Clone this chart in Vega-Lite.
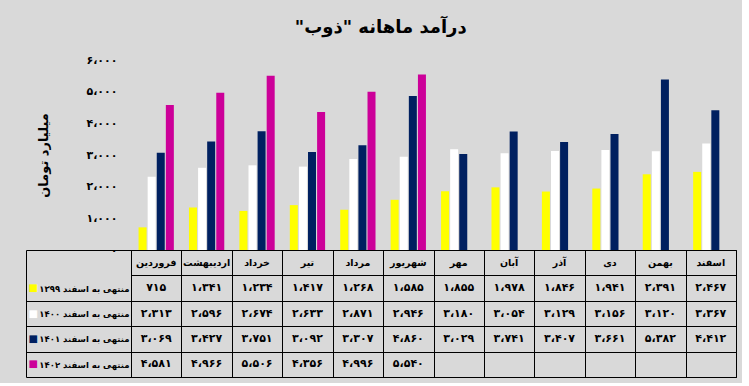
{
  "$schema": "https://vega.github.io/schema/vega-lite/v6.json",
  "background": "#d9d9d9",
  "padding": {"left": 25, "top": 19, "right": 5, "bottom": 5},
  "title": {"text": "درآمد ماهانه \"ذوب\"‏", "font": "DejaVu Sans", "fontSize": 18, "fontWeight": "bold", "color": "#000000", "anchor": "middle", "offset": 17},
  "bounds": "flush",
  "spacing": 0,
  "resolve": {"scale": {"x": "independent", "y": "independent"}},
  "config": {
    "view": {"stroke": null},
    "font": "DejaVu Sans",
    "axis": {"labelFont": "DejaVu Sans", "titleFont": "DejaVu Sans"}
  },
  "datasets": {
    "months": [
      {"month": "فروردین"}, {"month": "اردیبهشت"}, {"month": "خرداد"}, {"month": "تیر"},
      {"month": "مرداد"}, {"month": "شهریور"}, {"month": "مهر"}, {"month": "آبان"},
      {"month": "آذر"}, {"month": "دی"}, {"month": "بهمن"}, {"month": "اسفند"}
    ],
    "sales": [
      {"month": "فروردین", "series": "1399", "value": 715},
      {"month": "اردیبهشت", "series": "1399", "value": 1341},
      {"month": "خرداد", "series": "1399", "value": 1234},
      {"month": "تیر", "series": "1399", "value": 1417},
      {"month": "مرداد", "series": "1399", "value": 1268},
      {"month": "شهریور", "series": "1399", "value": 1585},
      {"month": "مهر", "series": "1399", "value": 1855},
      {"month": "آبان", "series": "1399", "value": 1978},
      {"month": "آذر", "series": "1399", "value": 1846},
      {"month": "دی", "series": "1399", "value": 1941},
      {"month": "بهمن", "series": "1399", "value": 2391},
      {"month": "اسفند", "series": "1399", "value": 2467},
      {"month": "فروردین", "series": "1400", "value": 2313},
      {"month": "اردیبهشت", "series": "1400", "value": 2596},
      {"month": "خرداد", "series": "1400", "value": 2674},
      {"month": "تیر", "series": "1400", "value": 2633},
      {"month": "مرداد", "series": "1400", "value": 2871},
      {"month": "شهریور", "series": "1400", "value": 2946},
      {"month": "مهر", "series": "1400", "value": 3180},
      {"month": "آبان", "series": "1400", "value": 3054},
      {"month": "آذر", "series": "1400", "value": 3129},
      {"month": "دی", "series": "1400", "value": 3156},
      {"month": "بهمن", "series": "1400", "value": 3120},
      {"month": "اسفند", "series": "1400", "value": 3367},
      {"month": "فروردین", "series": "1401", "value": 3069},
      {"month": "اردیبهشت", "series": "1401", "value": 3427},
      {"month": "خرداد", "series": "1401", "value": 3751},
      {"month": "تیر", "series": "1401", "value": 3092},
      {"month": "مرداد", "series": "1401", "value": 3307},
      {"month": "شهریور", "series": "1401", "value": 4860},
      {"month": "مهر", "series": "1401", "value": 3029},
      {"month": "آبان", "series": "1401", "value": 3741},
      {"month": "آذر", "series": "1401", "value": 3407},
      {"month": "دی", "series": "1401", "value": 3661},
      {"month": "بهمن", "series": "1401", "value": 5382},
      {"month": "اسفند", "series": "1401", "value": 4412},
      {"month": "فروردین", "series": "1402", "value": 4581},
      {"month": "اردیبهشت", "series": "1402", "value": 4966},
      {"month": "خرداد", "series": "1402", "value": 5506},
      {"month": "تیر", "series": "1402", "value": 4356},
      {"month": "مرداد", "series": "1402", "value": 4996},
      {"month": "شهریور", "series": "1402", "value": 5540}
    ]
  },
  "vconcat": [
    {
      "width": 605,
      "height": 190,
      "data": {"name": "sales"},
      "mark": {"type": "bar"},
      "encoding": {
        "x": {"field": "month", "type": "nominal", "axis": null,
          "scale": {"domain": ["فروردین", "اردیبهشت", "خرداد", "تیر", "مرداد", "شهریور", "مهر", "آبان", "آذر", "دی", "بهمن", "اسفند"], "paddingInner": 0.3, "paddingOuter": 0.15}},
        "xOffset": {"field": "series", "type": "nominal", "scale": {"domain": ["1399", "1400", "1401", "1402"], "paddingInner": 0.12}},
        "y": {"field": "value", "type": "quantitative",
          "scale": {"domain": [0, 6000]},
          "axis": {"values": [0, 1000, 2000, 3000, 4000, 5000, 6000], "grid": false, "domain": false, "ticks": false, "tickSize": 0,
            "labelExpr": "['۰', '۱،۰۰۰', '۲،۰۰۰', '۳،۰۰۰', '۴،۰۰۰', '۵،۰۰۰', '۶،۰۰۰'][datum.value / 1000]",
            "labelFontSize": 11, "labelFontWeight": "bold", "labelColor": "#000000", "labelPadding": 14,
            "title": "میلیارد تومان", "titleFontSize": 13, "titleFontWeight": "bold", "titleColor": "#000000", "titlePadding": 35}},
        "color": {"field": "series", "type": "nominal", "legend": null,
          "scale": {"domain": ["1399", "1400", "1401", "1402"], "range": ["#ffff00", "#ffffff", "#002060", "#cc0099"]}}
      }
    },
    {
      "width": 605,
      "height": 127,
      "view": {"stroke": "#000000", "strokeWidth": 1},
      "resolve": {"axis": {"y": "independent"}},
      "layer": [
        {
          "data": {"name": "months"},
          "mark": {"type": "text", "fontSize": 9.5, "fontWeight": "bold", "color": "#000000"},
          "encoding": {
            "x": {"field": "month", "type": "nominal",
              "scale": {"domain": ["فروردین", "اردیبهشت", "خرداد", "تیر", "مرداد", "شهریور", "مهر", "آبان", "آذر", "دی", "بهمن", "اسفند"], "paddingInner": 0, "paddingOuter": 0},
              "axis": {"orient": "top", "title": null, "labels": false, "ticks": false, "domain": false, "grid": true, "tickBand": "extent", "gridColor": "#000000", "gridOpacity": 1, "gridWidth": 1}},
            "y": {"datum": "h", "type": "nominal",
              "scale": {"domain": ["h", "1399", "1400", "1401", "1402"], "paddingInner": 0, "paddingOuter": 0},
              "axis": {"orient": "left", "title": null, "domain": false, "grid": true, "gridColor": "#000000", "gridOpacity": 1, "tickBand": "extent",
                "ticks": true, "tickSize": 105, "tickColor": {"condition": {"test": "datum.value === 'h'", "value": "transparent"}, "value": "#000000"}, "tickWidth": 1,
                "labelPadding": -103, "labelAlign": "right", "labelFontSize": 8.5, "labelFontWeight": "bold", "labelColor": "#000000",
                "labelExpr": "datum.value === '1399' ? 'منتهی به اسفند ۱۳۹۹' : datum.value === '1400' ? 'منتهی به اسفند ۱۴۰۰' : datum.value === '1401' ? 'منتهی به اسفند ۱۴۰۱' : datum.value === '1402' ? 'منتهی به اسفند ۱۴۰۲' : ''"}},
            "text": {"field": "month", "type": "nominal"}
          }
        },
        {
          "data": {"name": "sales"},
          "transform": [
            {"calculate": "replace(replace(replace(replace(replace(replace(replace(replace(replace(replace(replace(format(datum.value, ','), /,/g, '،'), /0/g, '۰'), /1/g, '۱'), /2/g, '۲'), /3/g, '۳'), /4/g, '۴'), /5/g, '۵'), /6/g, '۶'), /7/g, '۷'), /8/g, '۸'), /9/g, '۹')", "as": "label"}
          ],
          "mark": {"type": "text", "fontSize": 11, "fontWeight": "bold", "color": "#000000"},
          "encoding": {
            "x": {"field": "month", "type": "nominal"},
            "y": {"field": "series", "type": "nominal",
              "axis": {"orient": "left", "title": null, "offset": 105, "domain": true, "domainColor": "#000000", "domainWidth": 1, "ticks": false, "tickSize": 0, "grid": false,
                "labelPadding": -2, "labelAlign": "left", "labelFontSize": 10,
                "labelExpr": "datum.value === '1399' || datum.value === '1400' || datum.value === '1401' || datum.value === '1402' ? '■' : ''",
                "labelColor": {"condition": [
                  {"test": "datum.value === '1399'", "value": "#ffff00"},
                  {"test": "datum.value === '1400'", "value": "#ffffff"},
                  {"test": "datum.value === '1401'", "value": "#002060"}
                ], "value": "#cc0099"}}},
            "text": {"field": "label", "type": "nominal"}
          }
        }
      ]
    }
  ]
}
